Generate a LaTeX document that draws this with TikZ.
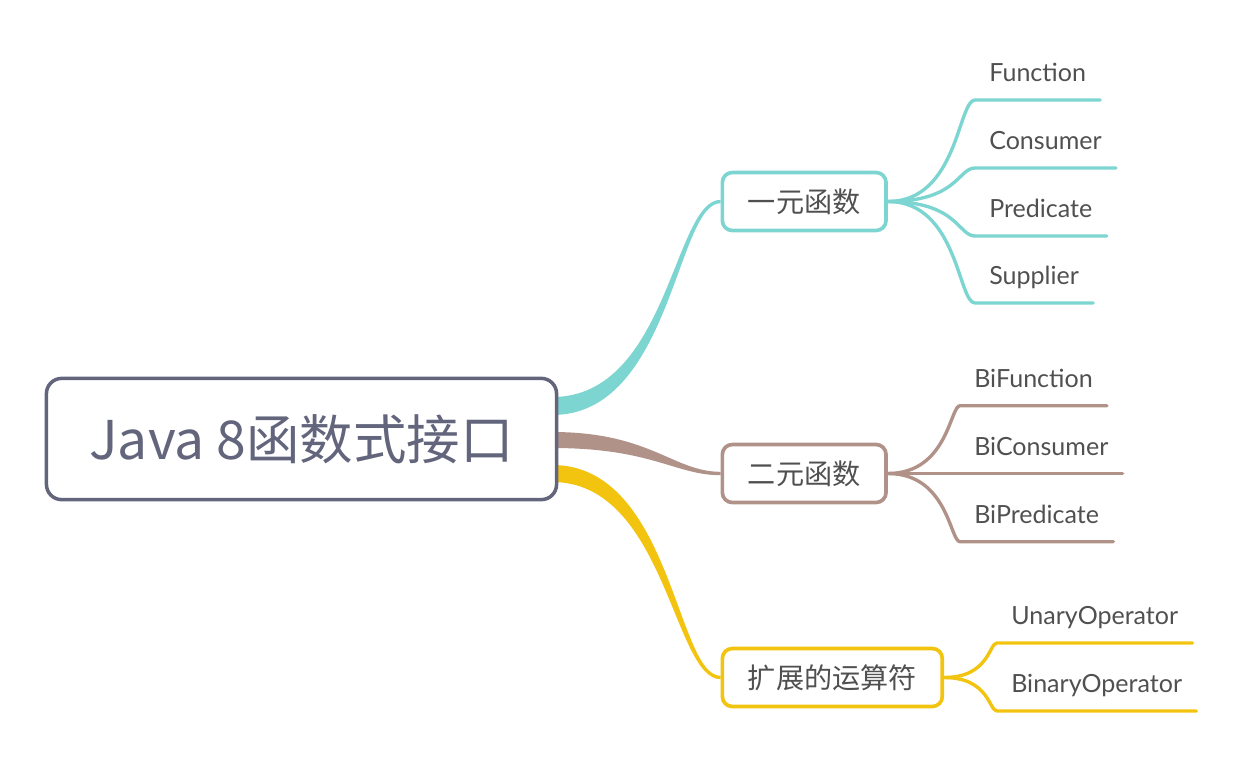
\documentclass[tikz,border=0pt]{standalone}
\usepackage{fontspec}
\setmainfont{Lato}
\newfontfamily\cjk{Noto Sans CJK SC}
\usetikzlibrary{calc,backgrounds}

\definecolor{rootgray}{RGB}{98,101,124}
\definecolor{tealline}{RGB}{125,213,209}
\definecolor{brownline}{RGB}{176,146,137}
\definecolor{yellowline}{RGB}{242,196,15}
\definecolor{labelgray}{RGB}{80,80,80}

\begin{document}
\begin{tikzpicture}[x=0.025cm, y=-0.025cm,
    rootbox/.style={draw=rootgray, line width=2.5pt, rounded corners=0.38cm, fill=white,
      text=rootgray, minimum width=12.75cm, minimum height=3.03cm, inner sep=0pt,
      font=\cjk\fontsize{38}{44}\selectfont},
    branchbox/.style={draw=#1, line width=2.6pt, rounded corners=0.25cm, fill=white,
      text=labelgray, inner xsep=0.64cm, inner ysep=0pt, minimum height=1.45cm, anchor=west,
      font=\cjk\fontsize{20}{24}\selectfont},
    leaf/.style={anchor=south west, inner xsep=0.35cm, inner ysep=0pt, minimum height=1.35cm,
      text height=12.8pt, text depth=0pt, text=labelgray, font=\fontsize{17.8}{21}\selectfont},
    twig/.style={draw=#1, line width=2.4pt, line cap=round}]
    \useasboundingbox (0,0) rectangle (1240,757);

    % 中心テーマ
    \node[rootbox] (root) at (301.5, 439) {Java 8函数式接口};

    % 分岐
    \node[branchbox=tealline] (b1) at (720.5, 201.5) {一元函数};
    \node[branchbox=brownline] (b2) at (720.5, 473.5) {二元函数};
    \node[branchbox=yellowline] (b3) at (720.5, 677.5) {扩展的运算符};

    % 葉
    \node[leaf] (f1) at (975, 100) {Function};
    \node[leaf] (f2) at (975, 168) {Consumer};
    \node[leaf] (f3) at (975, 236) {Predicate};
    \node[leaf] (f4) at (975, 303) {Supplier};
    \node[leaf] (g1) at (960, 405.7) {BiFunction};
    \node[leaf] (g2) at (960, 473.5) {BiConsumer};
    \node[leaf] (g3) at (960, 541.7) {BiPredicate};
    \node[leaf] (h1) at (997, 643) {UnaryOperator};
    \node[leaf] (h2) at (997, 711) {BinaryOperator};

    % 中心から分岐への太い枝
    \begin{scope}[on background layer]
      \fill[tealline] ($(root.east)+(-6,-42)$) .. controls +(116,0) and +(-47,0) .. ($(b1.west)+(0,-1.7)$)
        -- ($(b1.west)+(0,1.7)$) .. controls +(-44,0) and +(119,0) .. ($(root.east)+(-6,-24)$) -- cycle;
      \fill[brownline] ($(root.east)+(-6,-7)$) .. controls +(98,0) and +(-47,0) .. ($(b2.west)+(0,-1.7)$)
        -- ($(b2.west)+(0,1.7)$) .. controls +(-45,0) and +(100,0) .. ($(root.east)+(-6,9)$) -- cycle;
      \fill[yellowline] ($(root.east)+(-6,26)$) .. controls +(119,0) and +(-44,0) .. ($(b3.west)+(0,-1.7)$)
        -- ($(b3.west)+(0,1.7)$) .. controls +(-47,0) and +(113,0) .. ($(root.east)+(-6,43)$) -- cycle;
    \end{scope}

    % 分岐から葉への枝
    \foreach \leafname in {f1,f2,f3,f4}
      \draw[twig=tealline] (b1.east) .. controls +(70,0) and +(-17,0) .. (\leafname.south west) -- (\leafname.south east);
    \foreach \leafname in {g1,g2,g3}
      \draw[twig=brownline] (b2.east) .. controls +(60,0) and +(-10,0) .. (\leafname.south west) -- (\leafname.south east);
    \foreach \leafname in {h1,h2}
      \draw[twig=yellowline] (b3.east) .. controls +(45,0) and +(-8,0) .. (\leafname.south west) -- (\leafname.south east);
\end{tikzpicture}
\end{document}
